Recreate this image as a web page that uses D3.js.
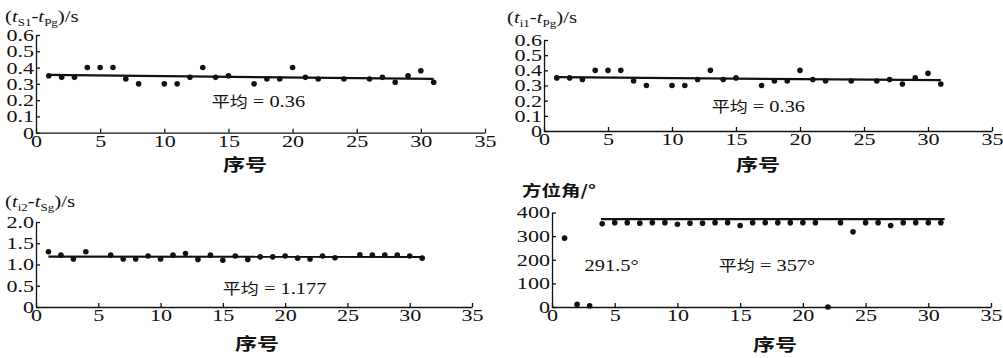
<!DOCTYPE html>
<html>
<head>
<meta charset="utf-8">
<script src="https://cdn.jsdelivr.net/npm/d3@7"></script>
<style>
	body { margin: 0; background: #fff; }
</style>
</head>
<body>
<div id="chart"></div>
<script>
	// sample number (x) shared by all four panels
	var seq = [1, 2, 3, 4, 5, 6, 7, 8, 9, 10, 11, 12, 13, 14, 15, 16,
		17, 18, 19, 20, 21, 22, 23, 24, 25, 26, 27, 28, 29, 30, 31];
	var xTicks = [0, 5, 10, 15, 20, 25, 30, 35];

	// (tS1 - tPg)/s
	var dtS1Pg = [0.35, 0.34, 0.34, 0.40, 0.40, 0.40, 0.33, 0.30, null, 0.30, 0.30, 0.34, 0.40, 0.34, 0.35, null,
		0.30, 0.33, 0.33, 0.40, 0.34, 0.33, null, 0.33, null, 0.33, 0.34, 0.31, 0.35, 0.38, 0.31];
	var trendS1Pg = [[1, 0.355], [31, 0.33]];

	// (ti1 - tPg)/s
	var dti1Pg = [0.35, 0.35, 0.34, 0.40, 0.40, 0.40, 0.33, 0.30, null, 0.30, 0.30, 0.34, 0.40, 0.34, 0.35, null,
		0.30, 0.33, 0.33, 0.40, 0.34, 0.33, null, 0.33, null, 0.33, 0.34, 0.31, 0.35, 0.38, 0.31];
	var trendi1Pg = [[1, 0.355], [31, 0.335]];

	// (ti2 - tSg)/s
	var dti2Sg = [1.30, 1.22, 1.13, 1.30, null, 1.22, 1.13, 1.13, 1.20, 1.13, 1.22, 1.26, 1.12, 1.22, 1.10, 1.20,
		1.12, 1.18, 1.18, 1.20, 1.15, 1.13, 1.20, 1.16, null, 1.23, 1.22, 1.22, 1.22, 1.20, 1.15];
	var trendi2Sg = [[1, 1.185], [31, 1.18]];

	// azimuth / degrees
	var azimuth = [291.5, 11, 5, 352, 357, 357, 355, 357, 357, 350, 355, 355, 357, 357, 345, 357,
		357, 357, 357, 357, 357, 0, 357, 318, 357, 357, 345, 357, 357, 357, 357];
	var trendAz = [[3.9, 372], [31.3, 372]];

	var yTicksTime = [0, 0.1, 0.2, 0.3, 0.4, 0.5, 0.6];
	var yTicksI2 = [0, 0.5, 1.0, 1.5, 2.0];
	var yTicksAz = [0, 100, 200, 300, 400];

	var SX = 1.3; // the original figure is stretched sideways
	var SERIF = "'Liberation Serif', 'Times New Roman', Times, serif";
	var CJK = "'Noto Sans CJK SC', sans-serif";

	var svg = d3.select("#chart").append("svg")
		.attr("width", 1003)
		.attr("height", 358);

	function oneDec(d) { return d === 0 ? "0" : d3.format(".1f")(d); }

	var panels = [
		{ left: 36, right: 485, bottom: 132.7, top: 35, domain: [0, 0.6], yTicks: yTicksTime, fmt: oneDec,
			values: dtS1Pg, trend: trendS1Pg, title: ["S1", "Pg"], titleX: 5, titleY: 22, labelX: 245, labelY: 171,
			notes: [{ x: 13.7, y: 0.158, cjk: "平均", rest: " = 0.36" }] },
		{ left: 544, right: 992, bottom: 131, top: 40, domain: [0, 0.6], yTicks: yTicksTime, fmt: oneDec,
			values: dti1Pg, trend: trendi1Pg, title: ["i1", "Pg"], titleX: 507, titleY: 23, labelX: 758, labelY: 171,
			notes: [{ x: 13.1, y: 0.125, cjk: "平均", rest: " = 0.36" }] },
		{ left: 36, right: 472, bottom: 307, top: 222, domain: [0, 2], yTicks: yTicksI2, fmt: oneDec,
			values: dti2Sg, trend: trendi2Sg, title: ["i2", "Sg"], titleX: 5, titleY: 207, labelX: 257, labelY: 350,
			notes: [{ x: 15.0, y: 0.31, cjk: "平均", rest: " = 1.177" }] },
		{ left: 552, right: 991, bottom: 307, top: 212.5, domain: [0, 400], yTicks: yTicksAz, fmt: d3.format("d"),
			values: azimuth, trend: trendAz, title: null, titleX: 522, titleY: 196, labelX: 775, labelY: 351,
			notes: [{ x: 2.6, y: 152, cjk: "", rest: "291.5°" }, { x: 13.3, y: 152, cjk: "平均", rest: " = 357°" }] }
	];

	panels.forEach(function(p) {
		var x = d3.scaleLinear().domain([0, 35]).range([p.left, p.right]);
		var y = d3.scaleLinear().domain(p.domain).range([p.bottom, p.top]);
		var g = svg.append("g");

		// axes, ticks pointing inward
		var xa = g.append("g")
			.attr("transform", "translate(0," + p.bottom + ")")
			.call(d3.axisBottom(x).tickValues(xTicks).tickSizeInner(-4).tickSizeOuter(0).tickPadding(2)
				.tickFormat(d3.format("d")));
		var ya = g.append("g")
			.attr("transform", "translate(" + p.left + ",0)")
			.call(d3.axisLeft(y).tickValues(p.yTicks).tickSizeInner(-4).tickSizeOuter(0).tickPadding(2)
				.tickFormat(p.fmt));

		[xa, ya].forEach(function(a) {
			a.attr("font-family", null).attr("font-size", null);
			a.selectAll("path, line").attr("stroke", "#111").attr("stroke-width", 1.3);
			a.selectAll("text")
				.style("font-family", SERIF)
				.style("font-size", "17px")
				.attr("fill", "#111")
				.attr("x", function() { return +d3.select(this).attr("x") / SX; })
				.attr("transform", "scale(" + SX + ",1)");
		});

		// trend line
		g.append("line")
			.attr("x1", x(p.trend[0][0])).attr("y1", y(p.trend[0][1]))
			.attr("x2", x(p.trend[1][0])).attr("y2", y(p.trend[1][1]))
			.attr("stroke", "#111")
			.attr("stroke-width", 2.2);

		// points
		g.selectAll("circle")
			.data(seq.map(function(s, i) { return [s, p.values[i]]; }).filter(function(d) { return d[1] != null; }))
			.enter().append("circle")
			.attr("cx", function(d) { return x(d[0]); })
			.attr("cy", function(d) { return y(d[1]); })
			.attr("r", 2.8)
			.attr("fill", "#111");

		// y title
		var t = g.append("text")
			.attr("fill", "#111")
			.attr("transform", "translate(" + p.titleX + "," + p.titleY + ") scale(" + SX + ",1)");
		if (p.title) {
			t.style("font-family", SERIF).style("font-size", "16px");
			t.append("tspan").text("(");
			t.append("tspan").style("font-style", "italic").text("t");
			t.append("tspan").style("font-size", "10px").attr("dy", 4).text(p.title[0]);
			t.append("tspan").attr("dy", -4).text("-");
			t.append("tspan").style("font-style", "italic").text("t");
			t.append("tspan").style("font-size", "10px").attr("dy", 4).text(p.title[1]);
			t.append("tspan").attr("dy", -4).text(")/s");
		} else {
			t.style("font-family", CJK).style("font-size", "15px").style("font-weight", "bold")
				.text("方位角/°");
		}

		// x label
		svg.append("text")
			.attr("fill", "#111")
			.style("font-family", CJK)
			.style("font-size", "17px")
			.style("font-weight", "bold")
			.attr("text-anchor", "middle")
			.attr("transform", "translate(" + p.labelX + "," + p.labelY + ") scale(" + SX + ",1)")
			.text("序号");

		// mean annotations
		p.notes.forEach(function(n) {
			var nt = g.append("text")
				.attr("fill", "#111")
				.attr("transform", "translate(" + x(n.x) + "," + y(n.y) + ") scale(1.2,1)");
			if (n.cjk) nt.append("tspan").style("font-family", CJK).style("font-size", "15px").text(n.cjk);
			nt.append("tspan").style("font-family", SERIF).style("font-size", "17px").text(n.rest);
		});
	});
</script>
</body>
</html>
